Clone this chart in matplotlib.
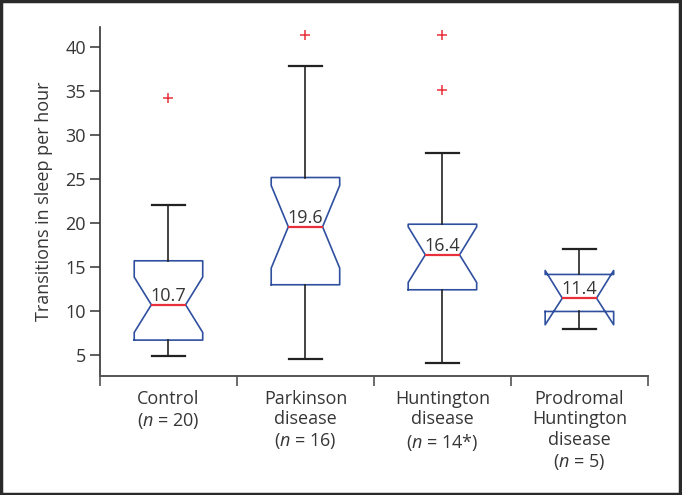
import matplotlib
matplotlib.use("Agg")
import matplotlib.pyplot as plt
from matplotlib.patches import Rectangle

plt.rcParams['font.family'] = ['Open Sans', 'DejaVu Sans']
plt.rcParams['mathtext.fontset'] = 'custom'
plt.rcParams['mathtext.rm'] = 'Open Sans'
plt.rcParams['mathtext.it'] = 'Open Sans:italic'

# ---- data ----
categories = ["Control\n($n$ = 20)",
              "Parkinson\ndisease\n($n$ = 16)",
              "Huntington\ndisease\n($n$ = 14*)",
              "Prodromal\nHuntington\ndisease\n($n$ = 5)"]
medians = [10.75, 19.6, 16.42, 11.5]
median_labels = ["10.7", "19.6", "16.4", "11.4"]
q1 = [6.74, 13.02, 12.45, 9.99]
q3 = [15.74, 25.19, 19.89, 14.19]
notch_lo = [7.61, 14.91, 13.28, 8.48]
notch_hi = [13.89, 24.28, 19.6, 14.64]
whisker_lo = [4.89, 4.59, 4.13, 8.03]
whisker_hi = [22.09, 37.85, 27.94, 17.06]
outliers = [[34.26], [41.32], [41.32, 35.09], []]
y_ticks = [5, 10, 15, 20, 25, 30, 35, 40]
y_label = "Transitions in sleep per hour"

box_color = '#2f4f9f'
median_color = '#e8303a'
whisker_color = '#222222'
text_color = '#363636'

fig = plt.figure(figsize=(6.82, 4.95), dpi=100)
ax = fig.add_axes([0.1466, 0.241, 0.8034, 0.705])

stats = []
for i in range(len(categories)):
    stats.append(dict(med=medians[i], q1=q1[i], q3=q3[i],
                      whislo=whisker_lo[i], whishi=whisker_hi[i],
                      cilo=notch_lo[i], cihi=notch_hi[i],
                      fliers=outliers[i], label=categories[i]))

positions = list(range(1, len(categories) + 1))
ax.bxp(stats, positions=positions, widths=0.5, shownotches=True, showfliers=True,
       capwidths=0.24,
       boxprops=dict(color=box_color, linewidth=1.2),
       medianprops=dict(color=median_color, linewidth=1.6),
       whiskerprops=dict(color=whisker_color, linewidth=1.2),
       capprops=dict(color=whisker_color, linewidth=1.6),
       flierprops=dict(marker='+', markeredgecolor=median_color,
                       markersize=6.5, markeredgewidth=1.1, linestyle='none'))

for x, m, lab in zip(positions, medians, median_labels):
    ax.annotate(lab, (x, m), xytext=(0, 3), textcoords='offset points',
                ha='center', va='baseline', fontsize=13, color=text_color)

ax.set_xlim(0.5, 4.5)
ax.set_ylim(2.7, 42.3)
ax.set_yticks(y_ticks)
ax.set_xticks(positions)
ax.set_xticklabels(categories, fontsize=13, color=text_color, linespacing=1.2)
ax.set_xticks([0.5, 1.5, 2.5, 3.5, 4.5], minor=True)
ax.tick_params(axis='x', which='major', length=0, pad=10)
ax.tick_params(axis='x', which='minor', length=7, width=1.1, color='#444444',
               direction='out')
ax.tick_params(axis='y', which='major', length=7, width=1.1, color='#333333',
               labelsize=13, labelcolor=text_color, pad=3)
ax.set_ylabel(y_label, fontsize=13, color=text_color, labelpad=9)

for s in ['top', 'right']:
    ax.spines[s].set_visible(False)
ax.spines['left'].set_color('#333333')
ax.spines['left'].set_linewidth(1.2)
ax.spines['bottom'].set_color('#555555')
ax.spines['bottom'].set_linewidth(1.4)

# figure frame
fig.patches.append(Rectangle((0.002, 0.003), 0.995, 0.994, transform=fig.transFigure,
                             fill=False, edgecolor='#2a2a2a', linewidth=2.5))

fig.savefig("out.png", dpi=100)
